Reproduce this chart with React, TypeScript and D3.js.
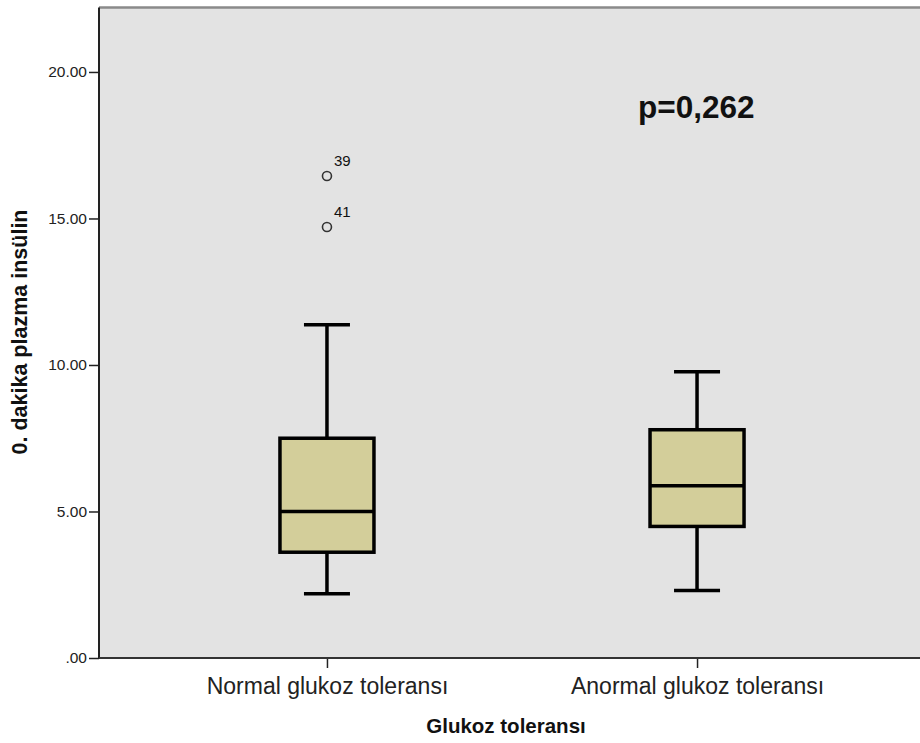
import React, { useRef, useEffect } from 'react'
import * as d3 from 'd3'

// groups and the box statistics
const categories = ['Normal glukoz toleransı', 'Anormal glukoz toleransı']
const whiskerLow = [2.19, 2.30]
const q1 = [3.61, 4.49]
const median = [5.0, 5.88]
const q3 = [7.50, 7.79]
const whiskerHigh = [11.37, 9.77]

const outlierGroup = ['Normal glukoz toleransı', 'Normal glukoz toleransı']
const outlierValue = [16.45, 14.71]
const outlierLabel = ['39', '41']

const yTicks = [0, 5, 10, 15, 20]
const yTickLabels = ['.00', '5.00', '10.00', '15.00', '20.00']

const pText = 'p=0,262'
const xTitle = 'Glukoz toleransı'
const yTitle = '0. dakika plazma insülin'

const W = 920
const H = 743
const plot = { left: 99, right: 925, top: 7.5, bottom: 658 }
const boxWidth = 94
const capWidth = 46
const font = 'Liberation Sans, Arial, sans-serif'

export default function App() {
  const ref = useRef<SVGSVGElement>(null)

  useEffect(() => {
    const svg = d3.select(ref.current)
    svg.selectAll('*').remove()

    const x = d3.scalePoint<string>()
      .domain(categories)
      .range([plot.left, plot.right])
      .padding(0.616)

    const y = d3.scaleLinear()
      .domain([0, 22.2])
      .range([plot.bottom, plot.top])

    // plot background
    svg.append('rect')
      .attr('x', plot.left)
      .attr('y', plot.top)
      .attr('width', plot.right - plot.left)
      .attr('height', plot.bottom - plot.top)
      .attr('fill', '#e3e3e3')

    svg.append('line')
      .attr('x1', plot.left).attr('x2', W)
      .attr('y1', plot.top).attr('y2', plot.top)
      .attr('stroke', '#8a8a8a').attr('stroke-width', 2.5)

    // y axis
    const yAxis = svg.append('g')
      .attr('transform', `translate(${plot.left},0)`)
      .call(d3.axisLeft(y).tickValues(yTicks).tickSize(10).tickPadding(2)
        .tickFormat((d, i) => yTickLabels[i]))
    yAxis.select('.domain').remove()
    yAxis.selectAll('line').attr('stroke', '#222').attr('stroke-width', 1.5)
    yAxis.selectAll('text')
      .attr('font-family', font)
      .attr('font-size', 15.5)
      .attr('fill', '#222')

    // x axis
    const xAxis = svg.append('g')
      .attr('transform', `translate(0,${plot.bottom})`)
      .call(d3.axisBottom(x).tickSize(10).tickPadding(10))
    xAxis.select('.domain').remove()
    xAxis.selectAll('line').attr('stroke', '#222').attr('stroke-width', 1.5)
    xAxis.selectAll('text')
      .attr('font-family', font)
      .attr('font-size', 23)
      .attr('fill', '#222')

    svg.append('line')
      .attr('x1', plot.left).attr('x2', plot.left)
      .attr('y1', plot.top).attr('y2', plot.bottom)
      .attr('stroke', '#222').attr('stroke-width', 2)
    svg.append('line')
      .attr('x1', plot.left).attr('x2', W)
      .attr('y1', plot.bottom).attr('y2', plot.bottom)
      .attr('stroke', '#333').attr('stroke-width', 2)

    // boxes
    const g = svg.append('g')
    categories.forEach((c, i) => {
      const cx = x(c) as number
      const stroke = { stroke: '#000', width: 3.5 }
      g.append('line')
        .attr('x1', cx).attr('x2', cx)
        .attr('y1', y(whiskerHigh[i])).attr('y2', y(q3[i]))
        .attr('stroke', stroke.stroke).attr('stroke-width', stroke.width)
      g.append('line')
        .attr('x1', cx).attr('x2', cx)
        .attr('y1', y(q1[i])).attr('y2', y(whiskerLow[i]))
        .attr('stroke', stroke.stroke).attr('stroke-width', stroke.width)
      ;[whiskerHigh[i], whiskerLow[i]].forEach(v => {
        g.append('line')
          .attr('x1', cx - capWidth / 2).attr('x2', cx + capWidth / 2)
          .attr('y1', y(v)).attr('y2', y(v))
          .attr('stroke', stroke.stroke).attr('stroke-width', stroke.width)
      })
      g.append('rect')
        .attr('x', cx - boxWidth / 2)
        .attr('width', boxWidth)
        .attr('y', y(q3[i]))
        .attr('height', y(q1[i]) - y(q3[i]))
        .attr('fill', '#d3ce9a')
        .attr('stroke', stroke.stroke).attr('stroke-width', stroke.width)
      g.append('line')
        .attr('x1', cx - boxWidth / 2).attr('x2', cx + boxWidth / 2)
        .attr('y1', y(median[i])).attr('y2', y(median[i]))
        .attr('stroke', stroke.stroke).attr('stroke-width', stroke.width)
    })

    // outliers
    outlierValue.forEach((v, i) => {
      const cx = x(outlierGroup[i]) as number
      g.append('circle')
        .attr('cx', cx).attr('cy', y(v)).attr('r', 4.5)
        .attr('fill', 'none').attr('stroke', '#333').attr('stroke-width', 1.6)
      g.append('text')
        .attr('x', cx + 7).attr('y', y(v) - 10)
        .attr('font-family', font)
        .attr('font-size', 15)
        .attr('fill', '#111')
        .text(outlierLabel[i])
    })

    // annotation
    svg.append('text')
      .attr('x', 638).attr('y', 118)
      .attr('font-family', font)
      .attr('font-size', 31.5).attr('font-weight', 'bold')
      .attr('fill', '#111')
      .text(pText)

    // titles
    svg.append('text')
      .attr('x', 506).attr('y', 733)
      .attr('text-anchor', 'middle')
      .attr('font-family', font)
      .attr('font-size', 20.5).attr('font-weight', 'bold')
      .attr('fill', '#111')
      .text(xTitle)

    svg.append('text')
      .attr('transform', `translate(27,332) rotate(-90)`)
      .attr('text-anchor', 'middle')
      .attr('font-family', font)
      .attr('font-size', 21.5).attr('font-weight', 'bold')
      .attr('fill', '#111')
      .text(yTitle)
  }, [])

  return (
    <svg ref={ref} width={W} height={H}
      style={{ position: 'absolute', left: 0, top: 0, background: '#fff' }} />
  )
}
